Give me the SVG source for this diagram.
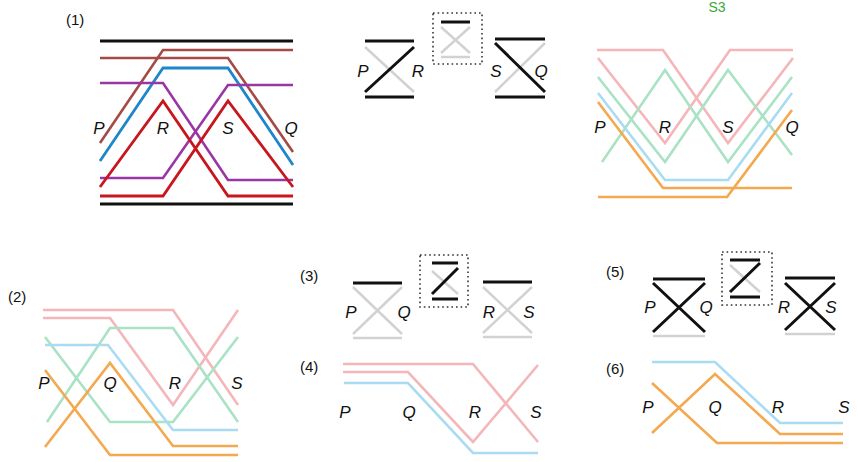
<svg xmlns="http://www.w3.org/2000/svg" width="858" height="462" viewBox="0 0 858 462">
<style>
.l{fill:none;stroke-linejoin:miter;stroke-linecap:butt}
.k{stroke:#111;stroke-width:3}
.g{stroke:#d2d2d2;stroke-width:2.5}
.br{stroke:#a54a45;stroke-width:2.6}
.bl{stroke:#1f86cc;stroke-width:2.8}
.pu{stroke:#9a35a6;stroke-width:2.6}
.rd{stroke:#c8161f;stroke-width:2.8}
.pk{stroke:#f5b6b9;stroke-width:2.6}
.gn{stroke:#a9e2c4;stroke-width:2.6}
.lb{stroke:#a9dcf3;stroke-width:2.6}
.or{stroke:#f4a84f;stroke-width:2.6}
.dot{fill:none;stroke:#333;stroke-width:1.6;stroke-dasharray:1.6 3}
.t{font-family:"Liberation Sans",Arial,sans-serif;font-style:italic;font-size:17px;fill:#111;text-anchor:middle}
.n{font-family:"Liberation Sans",Arial,sans-serif;font-size:15px;fill:#111}
</style>
<rect width="858" height="462" fill="#fff"/>
<text x="717" y="12" font-family="Liberation Sans,Arial,sans-serif" font-size="14" fill="#3aa83a" text-anchor="middle">S3</text>

<g id="panel1-left">
<text class="n" x="66" y="25">(1)</text>
<path class="l k" d="M100,41H293"/>
<path class="l br" d="M100,143L163,50H293"/>
<path class="l br" d="M100,58H228L293,152"/>
<path class="l bl" d="M100,161L163,68H228L293,165"/>
<path class="l pu" d="M100,83H163L228,180H293"/>
<path class="l pu" d="M100,178H163L228,85H293"/>
<path class="l rd" d="M100,187L163,101L228,196H293"/>
<path class="l rd" d="M100,196H163L228,101L293,187"/>
<path class="l k" d="M100,204H293"/>
<text class="t" x="99" y="134">P</text>
<text class="t" x="163" y="134">R</text>
<text class="t" x="228" y="134">S</text>
<text class="t" x="291" y="134">Q</text>
</g>

<g id="panel1-gadgets">
<path class="l g" d="M365,47L414,92"/>
<path class="l k" d="M365,92L414,47"/>
<path class="l k" d="M365,41H414M365,97H414"/>
<text class="t" x="363" y="77">P</text>
<text class="t" x="418" y="77">R</text>
<rect class="dot" x="433" y="13" width="49" height="51"/>
<path class="l g" d="M441,27L470,53M441,53L470,27M441,57H470"/>
<path class="l k" d="M441,22H470"/>
<path class="l g" d="M495,92L545,43"/>
<path class="l k" d="M495,43L545,92"/>
<path class="l k" d="M495,39H545M495,97H545"/>
<text class="t" x="496" y="77">S</text>
<text class="t" x="541" y="77">Q</text>
</g>

<g id="panel1-right">
<path class="l pk" d="M597,50H663L728,143L793,58"/>
<path class="l pk" d="M598,58L665,143L730,50H793"/>
<path class="l gn" d="M598,77L665,162L728,70L792,155"/>
<path class="l gn" d="M602,162L665,70L728,162L792,77"/>
<path class="l lb" d="M598,93L665,180H728L792,93"/>
<path class="l or" d="M598,102L663,188H792"/>
<path class="l or" d="M598,197H727L792,110"/>
<text class="t" x="600" y="133">P</text>
<text class="t" x="665" y="133">R</text>
<text class="t" x="728" y="133">S</text>
<text class="t" x="792" y="133">Q</text>
</g>

<g id="panel2">
<text class="n" x="8" y="302">(2)</text>
<path class="l pk" d="M43,310H173L238,405"/>
<path class="l pk" d="M43,318H110L173,405L238,310"/>
<path class="l gn" d="M45,337L110,422H173L238,337"/>
<path class="l gn" d="M47,422L110,328H173L238,422"/>
<path class="l lb" d="M45,345H108L173,430H238"/>
<path class="l or" d="M45,370L110,455H238"/>
<path class="l or" d="M45,447L110,363L173,446H238"/>
<text class="t" x="44" y="389">P</text>
<text class="t" x="110" y="389">Q</text>
<text class="t" x="175" y="389">R</text>
<text class="t" x="237" y="389">S</text>
</g>

<g id="panel3">
<text class="n" x="300" y="281">(3)</text>
<path class="l g" d="M353,287L402,334M353,334L402,287M353,338H402"/>
<path class="l k" d="M353,283H402"/>
<text class="t" x="351" y="318">P</text>
<text class="t" x="404" y="318">Q</text>
<rect class="dot" x="420" y="255" width="48" height="52"/>
<path class="l g" d="M432,271L458,294"/>
<path class="l k" d="M432,294L458,268M432,263H458M432,299H458"/>
<path class="l g" d="M483,287L532,333M483,333L532,287M483,337H532"/>
<path class="l k" d="M483,282H532"/>
<text class="t" x="489" y="318">R</text>
<text class="t" x="529" y="318">S</text>
</g>

<g id="panel4">
<text class="n" x="300" y="372">(4)</text>
<path class="l pk" d="M343,364H473L538,442"/>
<path class="l pk" d="M343,372H408L473,442L538,365"/>
<path class="l lb" d="M344,383H408L473,453H538"/>
<text class="t" x="345" y="418">P</text>
<text class="t" x="409" y="418">Q</text>
<text class="t" x="475" y="418">R</text>
<text class="t" x="536" y="418">S</text>
</g>

<g id="panel5">
<text class="n" x="606" y="277">(5)</text>
<path class="l g" d="M653,336H705"/>
<path class="l k" d="M653,279H705M653,283L705,332M653,332L705,283"/>
<text class="t" x="650" y="313">P</text>
<text class="t" x="706" y="313">Q</text>
<rect class="dot" x="722" y="252" width="50" height="53"/>
<path class="l g" d="M730,265L760,292"/>
<path class="l k" d="M730,292L760,263M730,260H760M730,297H760"/>
<path class="l g" d="M785,334H835"/>
<path class="l k" d="M785,278H835M785,283L835,330M785,330L835,283"/>
<text class="t" x="784" y="313">R</text>
<text class="t" x="831" y="313">S</text>
</g>

<g id="panel6">
<text class="n" x="606" y="374">(6)</text>
<path class="l lb" d="M652,362H715L780,423H843"/>
<path class="l or" d="M652,383L717,443H843"/>
<path class="l or" d="M652,433L715,374L780,434H843"/>
<text class="t" x="648" y="413">P</text>
<text class="t" x="715" y="413">Q</text>
<text class="t" x="778" y="413">R</text>
<text class="t" x="844" y="413">S</text>
</g>
</svg>
